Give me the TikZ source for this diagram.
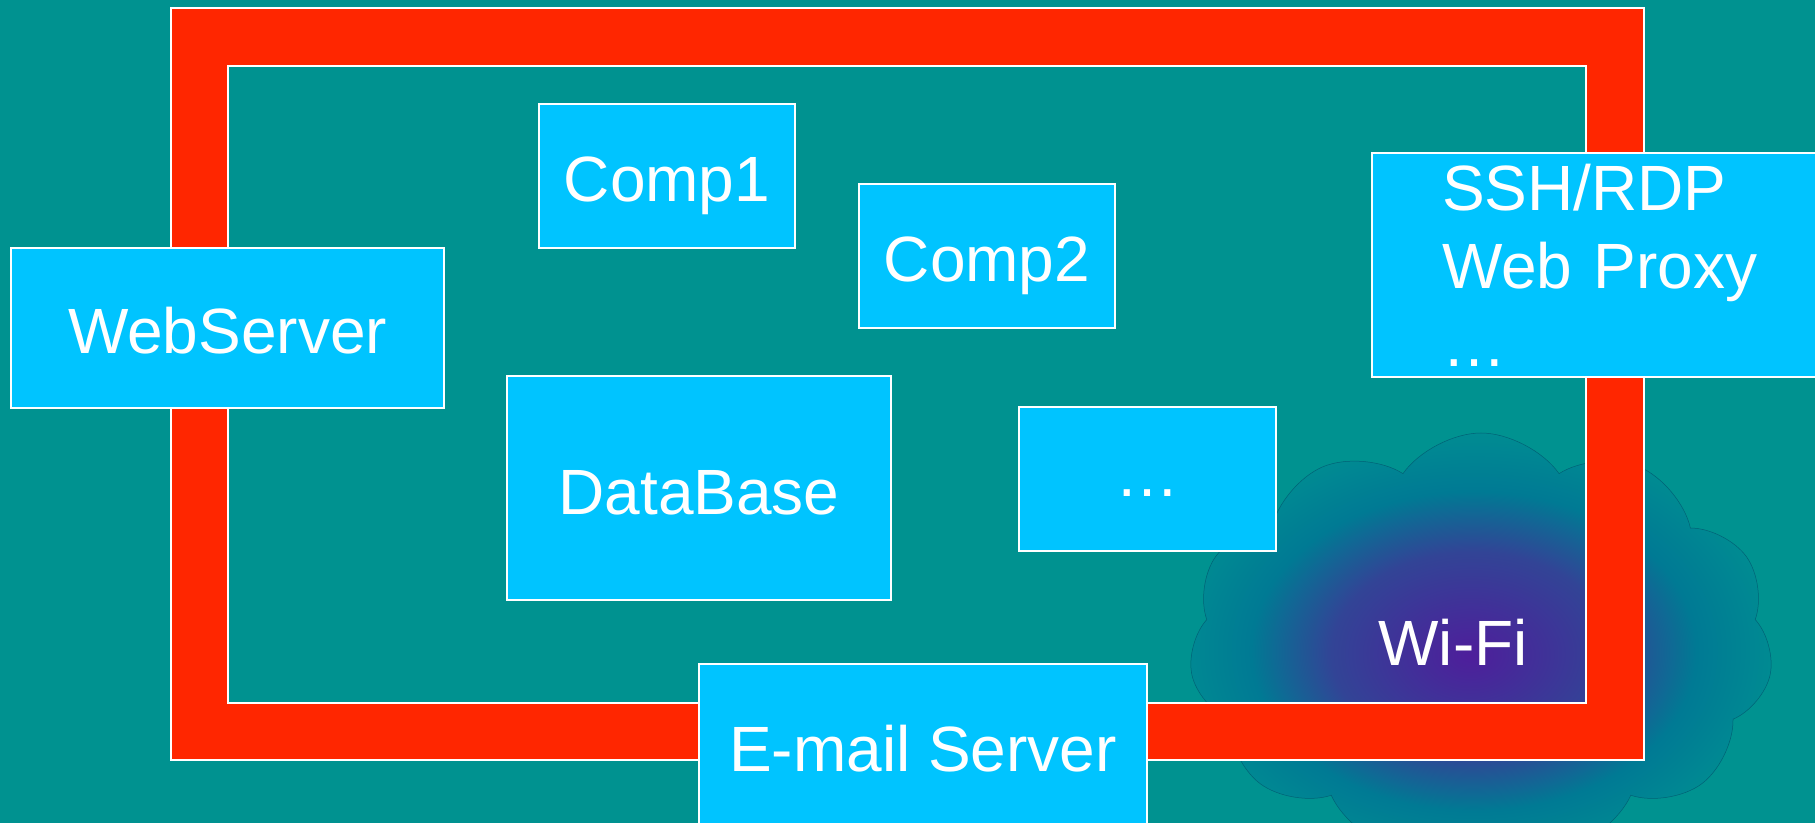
\documentclass[tikz,border=0pt]{standalone}
\usepackage{fontspec}
\setmainfont{Liberation Sans}
\usetikzlibrary{shapes.symbols}
\definecolor{bg}{RGB}{0,146,144}
\definecolor{framered}{RGB}{255,38,0}
\definecolor{boxc}{RGB}{0,196,255}
\definecolor{wifiin}{RGB}{78,30,155}
\definecolor{wifia}{RGB}{50,68,150}
\definecolor{wifimid}{RGB}{0,122,148}
\definecolor{wifiout}{RGB}{0,140,146}
\pgfdeclareradialshading{wifishade}{\pgfpoint{-1bp}{-1.5bp}}{color(0bp)=(wifiin); color(12bp)=(wifia); color(19bp)=(wifimid); color(26bp)=(wifiout); color(50bp)=(wifiout)}
\begin{document}
\begin{tikzpicture}[x=0.5pt,y=-0.5pt,
  box/.style={draw=white, line width=1pt, fill=boxc, text=white,
    font=\fontsize{32}{39}\selectfont, inner sep=0pt},
  onebox/.style={box, text height=30pt, text depth=4pt},
  lbl/.style={text=white, font=\fontsize{32}{39}\selectfont, inner sep=0pt}]
\useasboundingbox (0,0) rectangle (1815,823);
\clip (0,0) rectangle (1815,823);
\fill[bg] (0,0) rectangle (1815,823);
% Wi-Fi cloud
\node[cloud, cloud puffs=11, cloud puff arc=110, aspect=1.4,
  minimum width=292pt, minimum height=212pt,
  shading=wifishade, draw=wifimid!80!black, line width=0.25pt] (cloud) at (1481,645) {};
% red frame
\fill[framered, even odd rule] (171,8) rectangle (1644,760) (228,66) rectangle (1586,703);
\draw[white, line width=0.8pt] (171,8) rectangle (1644,760);
\draw[white, line width=0.8pt] (228,66) rectangle (1586,703);
% boxes
\node[onebox, minimum width=128pt, minimum height=72pt] (comp1) at (667,176) {Comp1};
\node[onebox, minimum width=128pt, minimum height=72pt] (comp2) at (987,256) {Comp2};
\node[onebox, minimum width=216.5pt, minimum height=80pt] (web) at (227.5,328) {WebServer};
\node[onebox, minimum width=192pt, minimum height=112pt] (db) at (699,488) {DataBase};
\node[onebox, text height=21pt, minimum width=128.5pt, minimum height=72pt] (more) at (1147.5,479) {…};
\node[onebox, minimum width=224pt, minimum height=81pt] (mail) at (923,745) {E-mail Server};
\node[box, minimum width=229pt, minimum height=112pt, text width=159pt,
  align=left, inner xsep=35pt] (ssh) at (1601,265) {SSH/RDP\\Web Proxy\\…};
\node[lbl] (wifi) at (1453,642) {Wi-Fi};
\end{tikzpicture}
\end{document}
